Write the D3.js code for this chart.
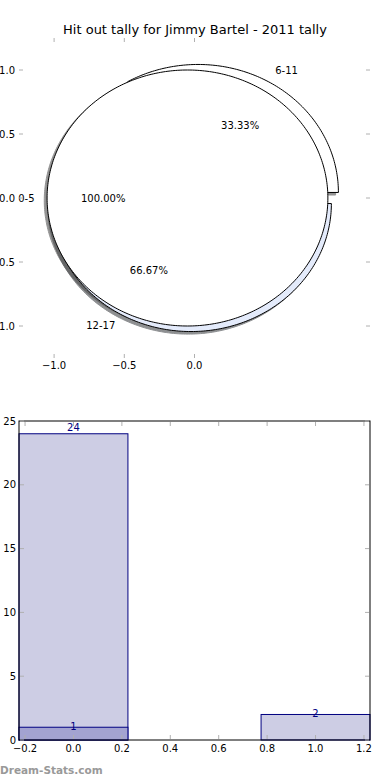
<!DOCTYPE html>
<html>
<head>
<meta charset="utf-8">
<script src="https://cdn.jsdelivr.net/npm/d3@7"></script>
<style>
  body { margin: 0; background: #fff; }
  svg { display: block; font-family: "DejaVu Sans", sans-serif; }
</style>
</head>
<body>
<div id="chart"></div>
<script>
// pie data (two pies drawn on the same axes)
var pieOneLabels = ["0-5"];
var pieOneValues = [1];
var pieOneColors = ["#ffffff"];
var pieTwoLabels = ["6-11", "12-17"];
var pieTwoValues = [1, 2];
var pieTwoColors = ["#ffffff", "#e4ebfb"];
var explodeAmount = 0.05;

// bar data
var barPositions = [0, 1];
var barValues = [24, 2];
var barOverlayPositions = [0];
var barOverlayValues = [1];
var barWidth = 0.45;

// tick labels
var pieXTicks = [-1.0, -0.5, 0.0];
var pieYTicks = [1.0, 0.5, 0.0, -0.5, -1.0];
var barXTicks = [-0.2, 0.0, 0.2, 0.4, 0.6, 0.8, 1.0, 1.2];
var barYTicks = [0, 5, 10, 15, 20, 25];

var W = 390, H = 780;
var svg = d3.select("#chart").append("svg")
	.attr("width", W)
	.attr("height", H);

var tickColor = "#b0b0b0";
var minus = function (v, f) { return d3.format(f)(v).replace("-", "\u2212"); };

//title
svg.append("text")
	.attr("x", 195)
	.attr("y", 34)
	.attr("text-anchor", "middle")
	.style("font-size", "13px")
	.attr("fill", "#000")
	.text("Hit out tally for Jimmy Bartel - 2011 tally");

// ---------- pie axes ----------
var pieLeft = 19, pieRight = 370, pieTop = 38, pieBottom = 358;
var xP = d3.scaleLinear().domain([-1.25, 1.25]).range([pieLeft, pieRight]);
var yP = d3.scaleLinear().domain([-1.25, 1.25]).range([pieBottom, pieTop]);

var line = d3.line()
	.x(function (d) { return xP(d[0]); })
	.y(function (d) { return yP(d[1]); });

function wedgePoints(cx, cy, t1, t2) {
	var pts = [];
	var full = (t2 - t1) >= 359.999;
	if (!full) pts.push([cx, cy]);
	for (var a = t1; a <= t2 + 0.0001; a += 1) {
		var r = a * Math.PI / 180;
		pts.push([cx + Math.cos(r), cy + Math.sin(r)]);
	}
	return pts;
}

function buildWedges(labels, values, colors) {
	var arcs = d3.pie().sort(null).startAngle(0).endAngle(2 * Math.PI)(values);
	var total = d3.sum(values);
	return arcs.map(function (a, i) {
		var t1 = a.startAngle * 180 / Math.PI;
		var t2 = a.endAngle * 180 / Math.PI;
		var mid = (t1 + t2) / 2 * Math.PI / 180;
		var cx = explodeAmount * Math.cos(mid);
		var cy = explodeAmount * Math.sin(mid);
		return {
			label: labels[i],
			pct: (100 * values[i] / total).toFixed(2) + "%",
			color: colors[i],
			cx: cx, cy: cy, mid: mid,
			pts: wedgePoints(cx, cy, t1, t2)
		};
	});
}

// pie two is drawn first, pie one ends on top
var wedges = buildWedges(pieTwoLabels, pieTwoValues, pieTwoColors)
	.concat(buildWedges(pieOneLabels, pieOneValues, pieOneColors));

// shadows first (lower zorder)
wedges.forEach(function (w) {
	var c = d3.rgb(w.color);
	var sc = d3.rgb(c.r * 0.3, c.g * 0.3, c.b * 0.3);
	var sp = w.pts.map(function (p) { return [p[0] - 0.02, p[1] - 0.02]; });
	svg.append("path")
		.attr("d", line(sp) + "Z")
		.attr("fill", sc)
		.attr("stroke", sc)
		.attr("opacity", 0.6);
});

wedges.forEach(function (w) {
	svg.append("path")
		.attr("d", line(w.pts) + "Z")
		.attr("fill", w.color)
		.attr("stroke", "#000")
		.attr("stroke-width", 1);
});

wedges.forEach(function (w) {
	var lx = w.cx + 1.1 * Math.cos(w.mid);
	var ly = w.cy + 1.1 * Math.sin(w.mid);
	svg.append("text")
		.attr("x", xP(lx))
		.attr("y", yP(ly))
		.attr("dx", lx > 0 ? 0 : 1.5)
		.attr("dy", "0.35em")
		.attr("text-anchor", lx > 0 ? "start" : "end")
		.style("font-size", "10px")
		.text(w.label);
	svg.append("text")
		.attr("x", xP(w.cx + 0.6 * Math.cos(w.mid)))
		.attr("y", yP(w.cy + 0.6 * Math.sin(w.mid)))
		.attr("dy", "0.35em")
		.attr("text-anchor", "middle")
		.style("font-size", "10px")
		.text(w.pct);
});

// pie ticks (no frame)
pieXTicks.forEach(function (t) {
	var x = xP(t);
	svg.append("line").attr("x1", x).attr("x2", x).attr("y1", pieTop).attr("y2", pieTop + 4).attr("stroke", tickColor);
	svg.append("line").attr("x1", x).attr("x2", x).attr("y1", pieBottom).attr("y2", pieBottom - 4).attr("stroke", tickColor);
	svg.append("text")
		.attr("x", x)
		.attr("y", pieBottom + 11)
		.attr("text-anchor", "middle")
		.style("font-size", "10px")
		.text(minus(t, ".1f"));
});
pieYTicks.forEach(function (t) {
	var y = yP(t);
	svg.append("line").attr("x1", pieLeft).attr("x2", pieLeft + 4).attr("y1", y).attr("y2", y).attr("stroke", tickColor);
	svg.append("line").attr("x1", pieRight).attr("x2", pieRight - 4).attr("y1", y).attr("y2", y).attr("stroke", tickColor);
	svg.append("text")
		.attr("x", pieLeft - 4)
		.attr("y", y)
		.attr("dy", "0.35em")
		.attr("text-anchor", "end")
		.style("font-size", "10px")
		.text(minus(t, ".1f"));
});

// ---------- bar axes ----------
var bLeft = 19, bRight = 370, bTop = 421, bBottom = 740;
var xB = d3.scaleLinear().domain([-0.225, 1.225]).range([bLeft, bRight]);
var yB = d3.scaleLinear().domain([0, 25]).range([bBottom, bTop]);

var bars = svg.append("g");
bars.selectAll(".bar")
	.data(barPositions)
	.enter()
	.append("rect")
	.attr("x", function (d) { return xB(d - barWidth / 2); })
	.attr("width", function (d) { return xB(d + barWidth / 2) - xB(d - barWidth / 2); })
	.attr("y", function (d, i) { return yB(barValues[i]); })
	.attr("height", function (d, i) { return yB(0) - yB(barValues[i]); })
	.attr("fill", "#cdcde4")
	.attr("stroke", "#000080");

bars.selectAll(".ov")
	.data(barOverlayPositions)
	.enter()
	.append("rect")
	.attr("x", function (d) { return xB(d - barWidth / 2); })
	.attr("width", function (d) { return xB(d + barWidth / 2) - xB(d - barWidth / 2); })
	.attr("y", function (d, i) { return yB(barOverlayValues[i]); })
	.attr("height", function (d, i) { return yB(0) - yB(barOverlayValues[i]); })
	.attr("fill", "#a3a3d1")
	.attr("stroke", "#000080");

function barLabel(x, v) {
	svg.append("text")
		.attr("x", xB(x))
		.attr("y", yB(v * 1.02))
		.attr("dy", "0.35em")
		.attr("text-anchor", "middle")
		.style("font-size", "10px")
		.attr("fill", "#000080")
		.text(v);
}
barPositions.forEach(function (d, i) { barLabel(d, barValues[i]); });
barOverlayPositions.forEach(function (d, i) { barLabel(d, barOverlayValues[i]); });

// frame
svg.append("rect")
	.attr("x", bLeft)
	.attr("y", bTop)
	.attr("width", bRight - bLeft)
	.attr("height", bBottom - bTop)
	.attr("fill", "none")
	.attr("stroke", "#000");

barXTicks.forEach(function (t) {
	var x = xB(t);
	svg.append("line").attr("x1", x).attr("x2", x).attr("y1", bBottom - 1).attr("y2", bBottom - 5).attr("stroke", tickColor);
	svg.append("line").attr("x1", x).attr("x2", x).attr("y1", bTop + 1).attr("y2", bTop + 5).attr("stroke", tickColor);
	svg.append("text")
		.attr("x", x)
		.attr("y", bBottom + 12)
		.attr("text-anchor", "middle")
		.style("font-size", "10px")
		.text(minus(t, ".1f"));
});
barYTicks.forEach(function (t) {
	var y = yB(t);
	svg.append("line").attr("x1", bLeft + 1).attr("x2", bLeft + 5).attr("y1", y).attr("y2", y).attr("stroke", tickColor);
	svg.append("line").attr("x1", bRight - 1).attr("x2", bRight - 5).attr("y1", y).attr("y2", y).attr("stroke", tickColor);
	svg.append("text")
		.attr("x", bLeft - 3)
		.attr("y", y)
		.attr("dy", "0.35em")
		.attr("text-anchor", "end")
		.style("font-size", "10px")
		.text(t);
});

// watermark
svg.append("text")
	.attr("x", 0)
	.attr("y", 774)
	.style("font-size", "10.5px")
	.style("font-weight", "bold")
	.attr("fill", "#999")
	.text("Dream-Stats.com");
</script>
</body>
</html>
